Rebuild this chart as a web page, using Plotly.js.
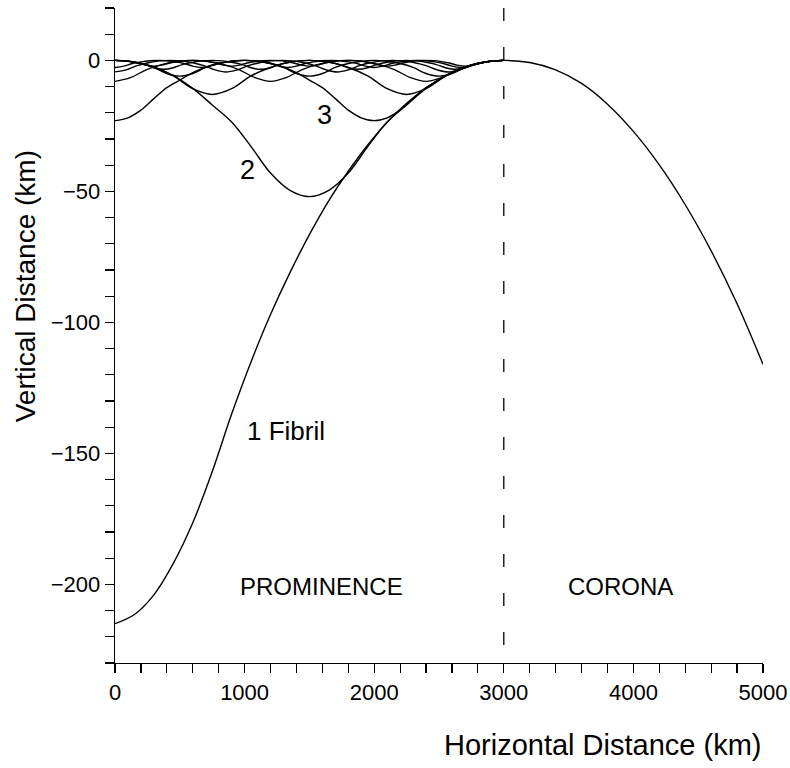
<!DOCTYPE html>
<html>
<head>
<meta charset="utf-8">
<script src="https://cdn.plot.ly/plotly-3.0.1.min.js"></script>
<style>
  html, body { margin: 0; padding: 0; background: #fff; }
  #chart { width: 790px; height: 768px; }
</style>
</head>
<body>
<div id="chart"></div>
<script>
// Field-line profiles for a prominence threaded by N fibrils (km).
// Single fibril across the whole prominence, continuing into the corona.
const x1 = [0,150,300,450,600,750,900,1050,1200,1350,1500,1650,1800,1950,2100,2250,2400,2550,2700,2850,3000,
            3200,3400,3600,3800,4000,4200,4400,4600,4800,5000];
const y1 = [-215,-211.5,-204,-192,-176.5,-157,-135,-115,-97,-81,-66.5,-53.5,-42.3,-32.3,-23.6,-16.4,-10.6,-5.9,-2.8,-0.7,0,
            -0.8,-3.6,-8.8,-16.7,-27.1,-39.9,-55.1,-72.7,-92.9,-116];

// Two fibrils
const x2 = [0,150,300,450,600,750,900,1050,1200,1350,1500,1650,1800,1950,2100,2250,2400,2550,2700,2850,3000];
const y2 = [0,-0.7,-2.5,-5.8,-10.7,-17,-23.5,-32.9,-43,-49.6,-52,-49.6,-43,-32.9,-23.5,-17,-10.7,-5.8,-2.5,-0.7,0];

// Three fibrils
const x3 = [0,100,200,300,400,500,600,700,800,900,1000,1100,1200,1300,1400,1500,1600,1700,1800,1900,2000,
            2100,2200,2300,2400,2500,2600,2700,2800,2900,3000];
const y3 = [-23,-21.9,-19,-14.6,-10.4,-7.5,-4.7,-2.6,-1.1,-0.3,0,-0.3,-1.1,-2.6,-4.7,-7.5,-10.4,-14.6,-19,-21.9,-23,
            -21.9,-19,-14.6,-10.4,-7.5,-4.7,-2.6,-1.1,-0.3,0];

// Four fibrils
const x4 = [0,150,300,450,600,750,900,1050,1200,1350,1500,1650,1800,1950,2100,2250,2400,2550,2700,2850,3000];
const y4 = [0,-0.6,-2.7,-5.9,-10.8,-13,-10.8,-5.9,-2.7,-0.6,0,-0.6,-2.7,-5.9,-10.8,-13,-10.8,-5.9,-2.7,-0.6,0];

// Five fibrils
const x5 = [0,120,240,360,480,600,720,840,960,1080,1200,1320,1440,1560,1680,1800,1920,2040,2160,2280,2400,
            2520,2640,2760,2880,3000];
const y5 = [-8,-6.6,-3.6,-1.6,-0.4,0,-0.4,-1.6,-3.6,-6.6,-8,-6.6,-3.6,-1.6,-0.4,0,-0.4,-1.6,-3.6,-6.6,-8,
            -6.6,-3.6,-1.6,-0.4,0];

// Six fibrils
const x6 = [0,100,200,300,400,500,600,700,800,900,1000,1100,1200,1300,1400,1500,1600,1700,1800,1900,2000,
            2100,2200,2300,2400,2500,2600,2700,2800,2900,3000];
const y6 = [0,-0.3,-1.2,-2.7,-5,-6,-5,-2.7,-1.2,-0.3,0,-0.3,-1.2,-2.7,-5,-6,-5,-2.7,-1.2,-0.3,0,
            -0.3,-1.2,-2.7,-5,-6,-5,-2.7,-1.2,-0.3,0];

// Seven fibrils
const x7 = [0,86,171,257,343,429,514,600,686,771,857,943,1029,1114,1200,1286,1371,1457,1543,1629,1714,
            1800,1886,1971,2057,2143,2229,2314,2400,2486,2571,2657,2743,2829,2914,3000];
const y7 = [-4.4,-3.6,-2,-0.9,-0.2,0,-0.2,-0.9,-2,-3.6,-4.4,-3.6,-2,-0.9,-0.2,0,-0.2,-0.9,-2,-3.6,-4.4,
            -3.6,-2,-0.9,-0.2,0,-0.2,-0.9,-2,-3.6,-4.4,-3.6,-2,-0.9,-0.2,0];

// Eight fibrils
const x8 = [0,75,150,225,300,375,450,525,600,675,750,825,900,975,1050,1125,1200,1275,1350,1425,1500,
            1575,1650,1725,1800,1875,1950,2025,2100,2175,2250,2325,2400,2475,2550,2625,2700,2775,2850,2925,3000];
const y8 = [0,-0.2,-0.7,-1.5,-2.8,-3.4,-2.8,-1.5,-0.7,-0.2,0,-0.2,-0.7,-1.5,-2.8,-3.4,-2.8,-1.5,-0.7,-0.2,0,
            -0.2,-0.7,-1.5,-2.8,-3.4,-2.8,-1.5,-0.7,-0.2,0,-0.2,-0.7,-1.5,-2.8,-3.4,-2.8,-1.5,-0.7,-0.2,0];

// Nine fibrils
const x9 = [0,67,133,200,267,333,400,467,533,600,667,733,800,867,933,1000,1067,1133,1200,1267,1333,
            1400,1467,1533,1600,1667,1733,1800,1867,1933,2000,2067,2133,2200,2267,2333,2400,2467,2533,2600,2667,
            2733,2800,2867,2933,3000];
const y9 = [-2.7,-2.2,-1.2,-0.55,-0.13,0,-0.13,-0.55,-1.2,-2.2,-2.7,-2.2,-1.2,-0.55,-0.13,0,-0.13,-0.55,-1.2,-2.2,-2.7,
            -2.2,-1.2,-0.55,-0.13,0,-0.13,-0.55,-1.2,-2.2,-2.7,-2.2,-1.2,-0.55,-0.13,0,-0.13,-0.55,-1.2,-2.2,-2.7,
            -2.2,-1.2,-0.55,-0.13,0];

// Ten fibrils
const x10 = [0,60,120,180,240,300,360,420,480,540,600,660,720,780,840,900,960,1020,1080,1140,1200,
             1260,1320,1380,1440,1500,1560,1620,1680,1740,1800,1860,1920,1980,2040,2100,2160,2220,2280,2340,2400,
             2460,2520,2580,2640,2700,2760,2820,2880,2940,3000];
const y10 = [0,-0.1,-0.45,-1,-1.8,-2.2,-1.8,-1,-0.45,-0.1,0,-0.1,-0.45,-1,-1.8,-2.2,-1.8,-1,-0.45,-0.1,0,
             -0.1,-0.45,-1,-1.8,-2.2,-1.8,-1,-0.45,-0.1,0,-0.1,-0.45,-1,-1.8,-2.2,-1.8,-1,-0.45,-0.1,0,
             -0.1,-0.45,-1,-1.8,-2.2,-1.8,-1,-0.45,-0.1,0];

// Prominence / corona boundary
const boundaryX = [3000, 3000];
const boundaryY = [20, -230];

const profiles = [[x1,y1],[x2,y2],[x3,y3],[x4,y4],[x5,y5],[x6,y6],[x7,y7],[x8,y8],[x9,y9],[x10,y10]];

const FONT = 'Liberation Sans, Arial, sans-serif';
const traces = profiles.map(([x, y]) => ({
  x: x, y: y, type: 'scatter', mode: 'lines',
  line: { color: '#000', width: 1.4, shape: 'spline', smoothing: 1 },
  hoverinfo: 'skip', showlegend: false
}));
traces.push({
  x: boundaryX, y: boundaryY, type: 'scatter', mode: 'lines',
  line: { color: '#000', width: 1.3, dash: '13px,26px' },
  hoverinfo: 'skip', showlegend: false
});

const txt = (text, x, y, size) => ({
  text: text, x: x, y: y, xref: 'x', yref: 'y', showarrow: false,
  font: { family: FONT, size: size || 24, color: '#000' }
});

const layout = {
  width: 790, height: 768,
  margin: { l: 115, r: 27, t: 8, b: 105 },
  paper_bgcolor: '#fff', plot_bgcolor: '#fff',
  font: { family: FONT, color: '#000' },
  xaxis: {
    range: [0, 5000], dtick: 1000, tick0: 0,
    showline: true, linecolor: '#000', linewidth: 1.3,
    ticks: 'outside', ticklen: 9, tickwidth: 1.2, tickcolor: '#000',
    minor: { dtick: 200, ticks: 'outside', ticklen: 9, tickwidth: 1.2, tickcolor: '#000' },
    showgrid: false, zeroline: false,
    tickfont: { family: FONT, size: 22, color: '#000' }
  },
  yaxis: {
    range: [-230, 20], dtick: 50, tick0: 0,
    showline: true, linecolor: '#000', linewidth: 1.3,
    ticks: 'outside', ticklen: 9, tickwidth: 1.2, tickcolor: '#000',
    minor: { dtick: 10, ticks: 'outside', ticklen: 9, tickwidth: 1.2, tickcolor: '#000' },
    showgrid: false, zeroline: false,
    tickfont: { family: FONT, size: 22, color: '#000' }
  },
  annotations: [
    txt('1 Fibril', 1320, -141.6, 26),
    txt('2', 1026, -42, 27),
    txt('3', 1620, -21, 27),
    txt('PROMINENCE', 1590, -200.8),
    txt('CORONA', 3897, -200.8),
    {
      text: 'Horizontal Distance (km)', xref: 'paper', yref: 'paper',
      x: 1, y: -0.125, xanchor: 'right', yanchor: 'middle', showarrow: false,
      font: { family: FONT, size: 29, color: '#000' }
    },
    {
      text: 'Vertical Distance (km)', xref: 'paper', yref: 'paper',
      x: -0.139, y: 0.575, xanchor: 'center', yanchor: 'middle', textangle: -90, showarrow: false,
      font: { family: FONT, size: 28, color: '#000' }
    }
  ]
};

Plotly.newPlot('chart', traces, layout, { staticPlot: true, displayModeBar: false });
</script>
</body>
</html>
